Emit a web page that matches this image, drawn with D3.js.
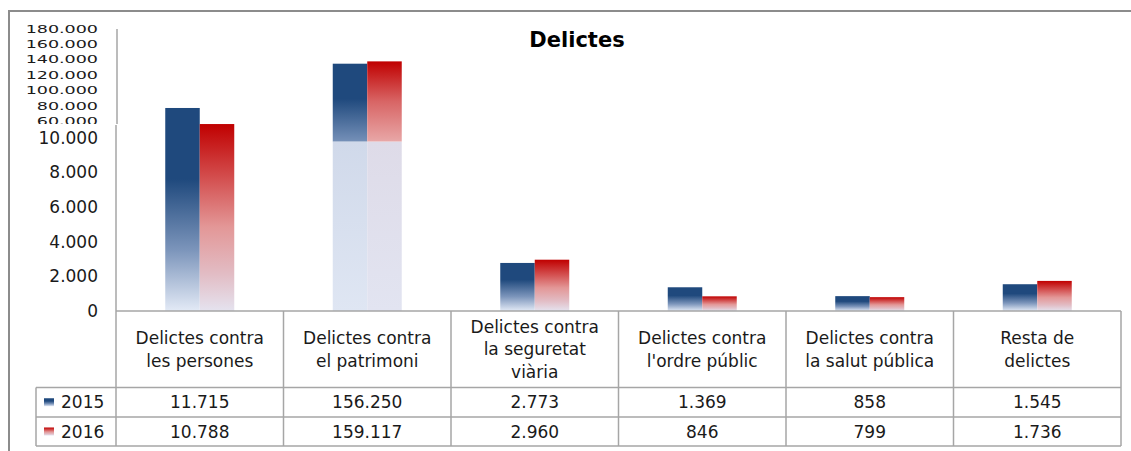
<!DOCTYPE html>
<html>
<head>
<meta charset="utf-8">
<script src="https://cdn.jsdelivr.net/npm/d3@7"></script>
<style>
  body { margin: 0; background: #fff; }
  text { font-family: "DejaVu Sans", sans-serif; fill: #1a1a1a; }
</style>
</head>
<body>
<script>
// data
var years = ['2015', '2016'];
var categories = [
  ['Delictes contra', 'les persones'],
  ['Delictes contra', 'el patrimoni'],
  ['Delictes contra', 'la seguretat', 'viària'],
  ['Delictes contra', "l'ordre públic"],
  ['Delictes contra', 'la salut pública'],
  ['Resta de', 'delictes']
];
var values2015 = [11715, 156250, 2773, 1369, 858, 1545];
var values2016 = [10788, 159117, 2960, 846, 799, 1736];
var lowTicks = [0, 2000, 4000, 6000, 8000, 10000];
var highTicks = [60000, 80000, 100000, 120000, 140000, 160000, 180000];
var title = 'Delictes';

var series = [values2015, values2016];
var breakValue = 60000;

var width = 1131, height = 451;
var svg = d3.select('body').append('svg').attr('width', width).attr('height', height);

var locale = d3.formatLocale({decimal: ',', thousands: '.', grouping: [3], currency: ['', '€']});
var fmt = locale.format(',d');

// scales
var x0 = d3.scaleBand().domain(d3.range(categories.length)).range([116, 1121]);
var groupW = 69;
var x1 = d3.scaleBand().domain(years).range([0, groupW]);
var yLow = d3.scaleLinear().domain([0, 10000]).range([311, 137.7]);
// upper (broken) part: bars and labels don't line up in the original, so two scales
var yHigh = d3.scaleLinear().domain([60000, 180000]).range([141.5, 44.5]);
var yHighLabels = d3.scaleLinear().domain([60000, 180000]).range([121, 28.5]);

// gradients
var defs = svg.append('defs');
function grad(id, stops) {
  var g = defs.append('linearGradient').attr('id', id)
    .attr('x1', 0).attr('y1', 0).attr('x2', 0).attr('y2', 1);
  stops.forEach(function(s) {
    g.append('stop').attr('offset', s[0]).attr('stop-color', s[1]);
  });
}
grad('g2015', [[0, '#1f497d'], [0.35, '#1f497d'], [0.7, '#7c95bb'], [1, '#e3eaf6']]);
grad('g2016', [[0, '#c00000'], [0.3, '#d45252'], [0.55, '#e39797'], [0.8, '#e2bcc4'], [1, '#e5e3ef']]);
grad('t2015', [[0, '#1f497d'], [0.45, '#1f497d'], [1, '#7590b8']]);
grad('t2016', [[0, '#c00000'], [0.5, '#d86565'], [1, '#e8a7a7']]);
grad('p2015', [[0, '#d0d9ea'], [1, '#dfe6f3']]);
grad('p2016', [[0, '#dedbe8'], [1, '#e2e4f1']]);
defs.append('clipPath').attr('id', 'clipHigh')
  .append('rect').attr('x', 0).attr('y', 0).attr('width', 120).attr('height', 124);

// frame
svg.append('rect').attr('x', 9).attr('y', 11).attr('width', 1140).attr('height', 460)
  .attr('fill', 'none').attr('stroke', '#8c8c8c').attr('stroke-width', 2);

// title
svg.append('text').attr('x', 577).attr('y', 47).attr('text-anchor', 'middle')
  .style('font-size', '21px').style('font-weight', 'bold').style('fill', '#000')
  .text(title);

// bars
var groups = svg.selectAll('g.cat').data(categories).enter().append('g')
  .attr('class', 'cat')
  .attr('transform', function(d, i) { return 'translate(' + (x0(i) + (x0.bandwidth() - groupW) / 2) + ',0)'; });

years.forEach(function(yr, s) {
  groups.each(function(d, i) {
    var v = series[s][i];
    var g = d3.select(this);
    if (v > breakValue) {
      // pale lower piece + coloured top piece above the break
      g.append('rect').attr('x', x1(yr)).attr('width', x1.bandwidth())
        .attr('y', yHigh(breakValue)).attr('height', yLow(0) - yHigh(breakValue))
        .attr('fill', 'url(#p' + yr + ')');
      g.append('rect').attr('x', x1(yr)).attr('width', x1.bandwidth())
        .attr('y', yHigh(v)).attr('height', yHigh(breakValue) - yHigh(v))
        .attr('fill', 'url(#t' + yr + ')');
    } else {
      g.append('rect').attr('x', x1(yr)).attr('width', x1.bandwidth())
        .attr('y', yLow(v)).attr('height', yLow(0) - yLow(v))
        .attr('fill', 'url(#g' + yr + ')');
    }
  });
});

// y axes
var axisLow = svg.append('g').attr('transform', 'translate(116,0)')
  .call(d3.axisLeft(yLow).tickValues(lowTicks).tickSize(0).tickPadding(18).tickFormat(fmt));
axisLow.select('.domain').remove();
axisLow.selectAll('text').style('font-size', '17px').style('font-family', '"DejaVu Sans", sans-serif').attr('fill', '#1a1a1a');

var axisHighWrap = svg.append('g').attr('clip-path', 'url(#clipHigh)');
var axisHigh = axisHighWrap.append('g').attr('transform', 'translate(116,0)')
  .call(d3.axisLeft(yHighLabels).tickValues(highTicks).tickSize(0).tickPadding(18).tickFormat(fmt));
axisHigh.select('.domain').remove();
axisHigh.selectAll('text').style('font-size', '17.5px').style('font-family', '"DejaVu Sans", sans-serif')
  .attr('fill', '#1a1a1a').attr('transform', 'scale(1,0.64)');

var lineColor = '#a6a6a6';
svg.append('line').attr('x1', 117).attr('x2', 117).attr('y1', 29).attr('y2', 124)
  .attr('stroke', lineColor).attr('stroke-width', 1.5);
svg.append('line').attr('x1', 116).attr('x2', 116).attr('y1', 125).attr('y2', 311)
  .attr('stroke', lineColor).attr('stroke-width', 1.5);

// data table
var rowTop = 311, headBottom = 387.5, row1Bottom = 417, row2Bottom = 446;
var legendLeft = 36;
var tbl = svg.append('g').attr('stroke', lineColor).attr('stroke-width', 1.5);
tbl.append('line').attr('x1', 116).attr('x2', 1121).attr('y1', rowTop).attr('y2', rowTop);
[headBottom, row1Bottom, row2Bottom].forEach(function(yy) {
  tbl.append('line').attr('x1', legendLeft).attr('x2', 1121).attr('y1', yy).attr('y2', yy);
});
d3.range(categories.length + 1).forEach(function(i) {
  var xx = i < categories.length ? x0(i) : x0.range()[1];
  tbl.append('line').attr('x1', xx).attr('x2', xx).attr('y1', rowTop).attr('y2', row2Bottom);
});
tbl.append('line').attr('x1', legendLeft).attr('x2', legendLeft).attr('y1', headBottom).attr('y2', row2Bottom);

// header labels
var headMid = (rowTop + headBottom) / 2;
groups.each(function(d, i) {
  var cx = x0(i) + x0.bandwidth() / 2;
  var t = svg.append('text').attr('text-anchor', 'middle').style('font-size', '17px');
  d.forEach(function(line, k) {
    t.append('tspan').attr('x', cx)
      .attr('y', headMid + (k - (d.length - 1) / 2) * 22.5)
      .attr('dy', '0.36em').text(line);
  });
});

// value rows with legend keys
var rowMids = [(headBottom + row1Bottom) / 2, (row1Bottom + row2Bottom) / 2];
years.forEach(function(yr, s) {
  svg.append('rect').attr('x', 44).attr('y', rowMids[s] - 4).attr('width', 10).attr('height', 8)
    .attr('fill', 'url(#g' + yr + ')');
  svg.append('text').attr('x', 61).attr('y', rowMids[s]).attr('dy', '0.36em')
    .style('font-size', '17px').text(yr);
  series[s].forEach(function(v, i) {
    svg.append('text').attr('x', x0(i) + x0.bandwidth() / 2).attr('y', rowMids[s]).attr('dy', '0.36em')
      .attr('text-anchor', 'middle').style('font-size', '17px').text(fmt(v));
  });
});
</script>
</body>
</html>
